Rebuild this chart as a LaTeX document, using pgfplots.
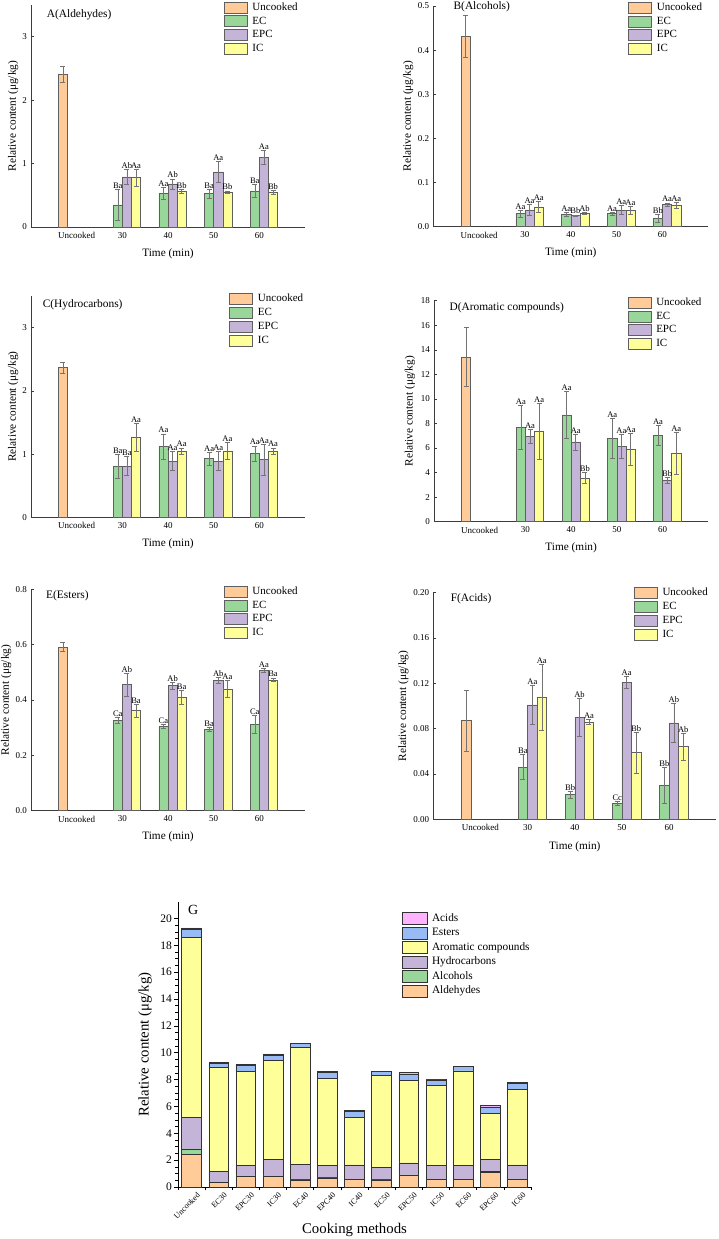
\documentclass[border=0pt]{standalone}
\usepackage{fontspec}
\setmainfont{Liberation Serif}
\usepackage{pgfplots}
\usepackage{pgfplotstable}
\pgfplotsset{compat=1.18}

\definecolor{cU}{RGB}{255,204,153}
\definecolor{cEC}{RGB}{153,214,153}
\definecolor{cEPC}{RGB}{196,180,216}
\definecolor{cIC}{RGB}{255,255,153}
\definecolor{cEs}{RGB}{153,187,245}
\definecolor{cAc}{RGB}{255,179,255}
\definecolor{edge}{RGB}{95,95,95}
\definecolor{gedge}{RGB}{50,50,50}
\definecolor{axc}{RGB}{60,60,60}
\definecolor{errc}{RGB}{115,115,115}

\newcommand\fs[1]{\fontsize{#1}{#1}\selectfont}

% Panel tables: c = category (0 Uncooked, 1..4 = 30..60 min)
\pgfplotstableread{
c U Ue EC ECe ECl EPC EPCe EPCl IC ICe ICl
0 2.41 0.12 nan nan x nan nan x nan nan x
1 nan nan 0.35 0.24 Ba 0.79 0.12 Ab 0.78 0.13 Aa
2 nan nan 0.53 0.10 Aa 0.68 0.08 Ab 0.56 0.03 Bb
3 nan nan 0.53 0.07 Ba 0.87 0.17 Aa 0.55 0.02 Bb
4 nan nan 0.57 0.10 Ba 1.10 0.11 Aa 0.55 0.03 Bb
}\tA
\pgfplotstableread{
c U Ue EC ECe ECl EPC EPCe EPCl IC ICe ICl
0 0.432 0.047 nan nan x nan nan x nan nan x
1 nan nan 0.030 0.008 Aa 0.038 0.013 Aa 0.045 0.013 Aa
2 nan nan 0.028 0.005 Aa 0.025 0.002 Bb 0.030 0.002 Ab
3 nan nan 0.030 0.003 Aa 0.038 0.010 Aa 0.038 0.009 Aa
4 nan nan 0.019 0.009 Bb 0.050 0.004 Aa 0.049 0.007 Aa
}\tB
\pgfplotstableread{
c U Ue EC ECe ECl EPC EPCe EPCl IC ICe ICl
0 2.37 0.09 nan nan x nan nan x nan nan x
1 nan nan 0.81 0.19 Ba 0.81 0.15 Ba 1.26 0.22 Aa
2 nan nan 1.12 0.20 Aa 0.89 0.15 Aa 1.05 0.05 Aa
3 nan nan 0.93 0.10 Aa 0.89 0.15 Aa 1.05 0.13 Aa
4 nan nan 1.01 0.12 Aa 0.91 0.24 Aa 1.05 0.05 Aa
}\tC
\pgfplotstableread{
c U Ue EC ECe ECl EPC EPCe EPCl IC ICe ICl
0 13.4 2.4 nan nan x nan nan x nan nan x
1 nan nan 7.70 1.80 Aa 6.95 0.60 Aa 7.35 2.30 Aa
2 nan nan 8.70 1.90 Aa 6.50 0.65 Aa 3.55 0.45 Bb
3 nan nan 6.80 1.65 Aa 6.15 1.00 Aa 5.90 1.30 Aa
4 nan nan 7.05 0.80 Aa 3.40 0.25 Bb 5.60 1.70 Aa
}\tD
\pgfplotstableread{
c U Ue EC ECe ECl EPC EPCe EPCl IC ICe ICl
0 0.592 0.016 nan nan x nan nan x nan nan x
1 nan nan 0.327 0.012 Ca 0.455 0.040 Ab 0.362 0.024 Ba
2 nan nan 0.305 0.008 Ca 0.452 0.012 Ab 0.411 0.025 Ba
3 nan nan 0.294 0.008 Ba 0.471 0.012 Ab 0.440 0.030 Aa
4 nan nan 0.312 0.033 Ca 0.508 0.007 Aa 0.473 0.007 Ba
}\tE
\pgfplotstableread{
c U Ue EC ECe ECl EPC EPCe EPCl IC ICe ICl
0 0.087 0.027 nan nan x nan nan x nan nan x
1 nan nan 0.046 0.011 Ba 0.101 0.017 Aa 0.108 0.029 Aa
2 nan nan 0.022 0.003 Bb 0.090 0.017 Ab 0.086 0.002 Aa
3 nan nan 0.014 0.002 Cc 0.121 0.005 Aa 0.059 0.018 Bb
4 nan nan 0.030 0.016 Bb 0.085 0.017 Ab 0.064 0.012 Ab
}\tF
\pgfplotstableread{
x ald alc hyd aro est aci
0 2.41 0.432 2.37 13.40 0.592 0.087
1 0.35 0.030 0.81 7.70 0.327 0.046
2 0.79 0.038 0.81 6.95 0.455 0.101
3 0.78 0.045 1.26 7.35 0.362 0.108
4 0.53 0.028 1.12 8.70 0.305 0.022
5 0.68 0.025 0.89 6.50 0.452 0.090
6 0.56 0.030 1.05 3.55 0.411 0.086
7 0.53 0.030 0.93 6.80 0.294 0.014
8 0.87 0.038 0.89 6.15 0.471 0.121
9 0.55 0.038 1.05 5.90 0.440 0.059
10 0.57 0.019 1.01 7.05 0.312 0.030
11 1.10 0.050 0.91 3.40 0.508 0.085
12 0.55 0.049 1.05 5.60 0.473 0.064
}\tG

\pgfplotsset{
 bb/.style={ybar, bar width=0.2, bar shift=0pt, fill=#1, draw=edge, line width=0.6pt,
   error bars/y dir=both, error bars/y explicit,
   error bars/error bar style={draw=errc, line width=0.5pt},
   error bars/error mark options={rotate=90, draw=errc, line width=0.5pt, mark size=2.5pt},
   legend image code/.code={\draw[##1] (0pt,-5.5pt) rectangle (23pt,5.5pt);}},
 lb/.style={ybar, bar width=0.2, bar shift=0pt, draw=none, fill=none, forget plot,
   nodes near coords, point meta=explicit symbolic,
   every node near coord/.append style={font=\fs{8.5}, inner sep=0.6pt, anchor=south, text=black}},
 gb/.style={fill=#1, draw=gedge, line width=0.6pt,
   legend image code/.code={\draw[##1] (0pt,-6pt) rectangle (25.6pt,6pt);}},
 panel/.style={
  scale only axis, clip=false,
  xmin=-1, xmax=5, ymin=0,
  axis x line=bottom, axis y line=left,
  axis line style={-, draw=axc, line width=0.8pt},
  every outer x axis line/.append style={-}, every outer y axis line/.append style={-},
  every inner x axis line/.append style={-}, every inner y axis line/.append style={-},
  xtick={0,1,2,3,4}, xticklabels={Uncooked,30,40,50,60},
  major x tick style={draw=none},
  y tick style={draw=axc, line width=0.6pt},
  tick align=inside, major tick length=3pt,
  tick label style={font=\fs{9}},
  /pgf/number format/assume math mode=true,
  xticklabel style={anchor=north, inner sep=0pt, yshift=-5pt},
  yticklabel style={anchor=east, inner sep=0pt, xshift=-4pt},
  xlabel={Time (min)}, ylabel={Relative content (μg/kg)},
  label style={font=\fs{11.3}},
  xlabel style={at={(axis description cs:0.5,-0.12)}, anchor=center},
  legend cell align=left,
  legend style={draw=none, fill=none, inner sep=0pt, outer sep=0pt, anchor=north west,
    font=\fs{11}, row sep=2.2pt, column sep=5pt,
    nodes={inner sep=0pt, text height=8pt, text depth=2.5pt}},
 },
}

\newcommand\bars[1]{%
\addplot[bb=cU] table[x expr=\thisrow{c}-0.3, y=U, y error=Ue]{#1};
\addplot[bb=cEC] table[x expr=\thisrow{c}-0.1, y=EC, y error=ECe]{#1};
\addplot[bb=cEPC] table[x expr=\thisrow{c}+0.1, y=EPC, y error=EPCe]{#1};
\addplot[bb=cIC] table[x expr=\thisrow{c}+0.3, y=IC, y error=ICe]{#1};
\addplot[lb] table[x expr=\thisrow{c}-0.1, y expr=\thisrow{EC}+\thisrow{ECe}, meta=ECl]{#1};
\addplot[lb] table[x expr=\thisrow{c}+0.1, y expr=\thisrow{EPC}+\thisrow{EPCe}, meta=EPCl]{#1};
\addplot[lb] table[x expr=\thisrow{c}+0.3, y expr=\thisrow{IC}+\thisrow{ICe}, meta=ICl]{#1};
\legend{Uncooked,EC,EPC,IC}
}

\begin{document}
\begin{tikzpicture}
\useasboundingbox (0,0) rectangle (718pt,-1239pt);

% A
\begin{axis}[panel, at={(31pt,-227pt)}, anchor=south west, width=274pt, height=222pt,
  ymax=3.5, ytick={0,1,2,3},
  ylabel style={at={(axis description cs:-0.065,0.5)}, anchor=center},
  legend style={at={(axis description cs:0.704,1.015)}}]
\bars{\tA}
\node[anchor=west, font=\fs{11.4}] at (axis description cs:0.045,0.955) {A(Aldehydes)};
\end{axis}

% B
\begin{axis}[panel, at={(433.3pt,-226.7pt)}, anchor=south west, width=275pt, height=220.7pt,
  ymax=0.5, ytick={0,0.1,0.2,0.3,0.4,0.5},
  yticklabel style={/pgf/number format/.cd, fixed, fixed zerofill, precision=1},
  ylabel style={at={(axis description cs:-0.091,0.5)}, anchor=center},
  legend style={at={(axis description cs:0.709,1.019)}}]
\bars{\tB}
\node[anchor=west, font=\fs{11.4}] at (axis description cs:0.061,0.997) {B(Alcohols)};
\end{axis}

% C
\begin{axis}[panel, at={(31pt,-517.3pt)}, anchor=south west, width=274pt, height=221.3pt,
  ymax=3.5, ytick={0,1,2,3},
  ylabel style={at={(axis description cs:-0.065,0.5)}, anchor=center},
  legend style={at={(axis description cs:0.724,1.012)}}]
\bars{\tC}
\node[anchor=west, font=\fs{11.4}] at (axis description cs:0.030,0.9625) {C(Hydrocarbons)};
\end{axis}

% D
\begin{axis}[panel, at={(434pt,-521.7pt)}, anchor=south west, width=274.3pt, height=221pt,
  ymax=18, ytick={0,2,...,18},
  ylabel style={at={(axis description cs:-0.0875,0.5)}, anchor=center},
  legend style={at={(axis description cs:0.706,1.018)}}]
\bars{\tD}
\node[anchor=west, font=\fs{11.4}] at (axis description cs:0.0437,0.968) {D(Aromatic compounds)};
\end{axis}

% E
\begin{axis}[panel, at={(31pt,-810.7pt)}, anchor=south west, width=274pt, height=221.4pt,
  ymax=0.8, ytick={0,0.2,0.4,0.6,0.8},
  yticklabel style={/pgf/number format/.cd, fixed, fixed zerofill, precision=1},
  ylabel style={at={(axis description cs:-0.091,0.5)}, anchor=center},
  legend style={at={(axis description cs:0.704,1.016)}}]
\bars{\tE}
\node[anchor=west, font=\fs{11.4}] at (axis description cs:0.0427,0.971) {E(Esters)};
\end{axis}

% F
\begin{axis}[panel, at={(433.3pt,-819.3pt)}, anchor=south west, width=283pt, height=226.7pt,
  ymax=0.2, ytick={0,0.04,0.08,0.12,0.16,0.20},
  yticklabel style={/pgf/number format/.cd, fixed, fixed zerofill, precision=2},
  ylabel style={at={(axis description cs:-0.106,0.5)}, anchor=center},
  legend style={at={(axis description cs:0.709,1.023)}}]
\bars{\tF}
\node[anchor=west, font=\fs{11.4}] at (axis description cs:0.0495,0.972) {F(Acids)};
\end{axis}

% G
\begin{axis}[at={(178pt,-1187pt)}, anchor=south west, scale only axis,
  width=353pt, height=284.7pt, clip=false,
  ybar stacked, bar width=0.73,
  xmin=-0.5, xmax=12.5, ymin=0, ymax=21.2,
  axis x line=bottom, axis y line=left,
  axis line style={-, draw=black, line width=0.8pt},
  every outer x axis line/.append style={-}, every outer y axis line/.append style={-},
  every inner x axis line/.append style={-}, every inner y axis line/.append style={-},
  ytick={0,2,...,20}, minor y tick num=3,
  xtick={0,...,12},
  xticklabels={Uncooked,EC30,EPC30,IC30,EC40,EPC40,IC40,EC50,EPC50,IC50,EC60,EPC60,IC60},
  minor xtick={-0.5,0.5,...,12.5},
  tick align=outside, major tick length=4pt, minor tick length=3pt,
  major x tick style={draw=none},
  tick style={draw=black, line width=0.7pt},
  /pgf/number format/assume math mode=true,
  yticklabel style={font=\fs{11.5}, anchor=east, inner sep=0pt, xshift=-2pt},
  xticklabel style={font=\fs{8}, rotate=45, anchor=north east, inner sep=0pt, yshift=-4pt, xshift=3pt},
  xlabel={Cooking methods}, ylabel={Relative content (μg/kg)},
  label style={font=\fs{14.8}},
  xlabel style={at={(axis description cs:0.5,-0.151)}, anchor=center},
  ylabel style={at={(axis description cs:-0.0935,0.5)}, anchor=center},
  reverse legend, legend cell align=left,
  legend style={at={(axis description cs:0.634,0.965)}, anchor=north west,
    draw=none, fill=none, inner sep=0pt, outer sep=0pt, font=\fs{11.3},
    row sep=1.9pt, column sep=4pt,
    nodes={inner sep=0pt, text height=8.5pt, text depth=3pt}},
]
\addplot[gb=cU] table[x=x, y=ald]{\tG};
\addplot[gb=cEC] table[x=x, y=alc]{\tG};
\addplot[gb=cEPC] table[x=x, y=hyd]{\tG};
\addplot[gb=cIC] table[x=x, y=aro]{\tG};
\addplot[gb=cEs] table[x=x, y=est]{\tG};
\addplot[gb=cAc] table[x=x, y=aci]{\tG};
\legend{Aldehydes,Alcohols,Hydrocarbons,Aromatic compounds,Esters,Acids}
\node[font=\fs{14}] at (axis description cs:0.043,0.973) {G};
\end{axis}
\end{tikzpicture}
\end{document}
